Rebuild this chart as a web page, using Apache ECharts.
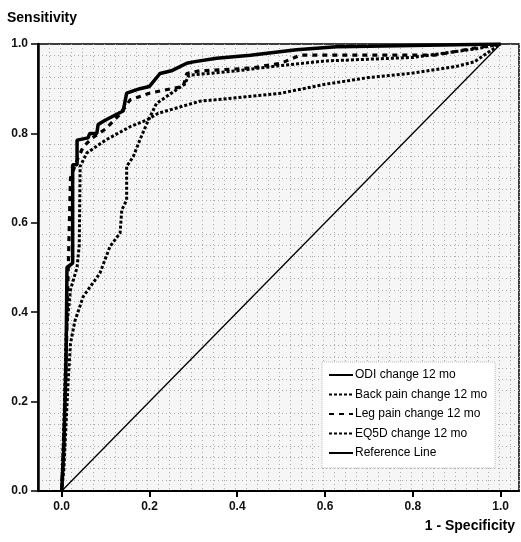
<!DOCTYPE html>
<html>
<head>
<meta charset="utf-8">
<script src="https://cdn.jsdelivr.net/npm/echarts@6/dist/echarts.min.js"></script>
<style>
html,body{margin:0;padding:0;background:#fff;}
#chart{width:521px;height:542px;}
</style>
</head>
<body>
<div id="chart"></div>
<script>
// ---- data (1 - specificity, sensitivity) ----
var tickValues = [0, 0.2, 0.4, 0.6, 0.8, 1.0];
var seriesNames = ["ODI change 12 mo", "Back pain change 12 mo", "Leg pain change 12 mo", "EQ5D change 12 mo", "Reference Line"];

var odi = [[0,0],[0.005,0.1],[0.01,0.3],[0.012,0.5],[0.025,0.51],[0.025,0.73],[0.035,0.73],[0.035,0.785],[0.06,0.79],[0.064,0.8],[0.08,0.8],[0.083,0.82],[0.1,0.83],[0.12,0.84],[0.14,0.85],[0.148,0.89],[0.178,0.9],[0.2,0.905],[0.224,0.934],[0.25,0.94],[0.285,0.957],[0.3,0.96],[0.353,0.968],[0.43,0.975],[0.535,0.987],[0.626,0.994],[0.7,0.995],[1,1]];

var backPain = [[0,0],[0.005,0.15],[0.01,0.35],[0.02,0.45],[0.035,0.5],[0.04,0.55],[0.042,0.726],[0.057,0.756],[0.1,0.785],[0.156,0.815],[0.194,0.83],[0.22,0.845],[0.315,0.872],[0.4,0.88],[0.5,0.89],[0.55,0.9],[0.6,0.91],[0.7,0.925],[0.8,0.935],[0.9,0.95],[0.94,0.96],[0.97,0.98],[1,1]];

var legPain = [[0,0],[0.008,0.2],[0.015,0.5],[0.02,0.7],[0.035,0.74],[0.049,0.77],[0.07,0.79],[0.1,0.81],[0.13,0.84],[0.156,0.875],[0.2,0.89],[0.25,0.9],[0.277,0.905],[0.285,0.934],[0.315,0.94],[0.43,0.946],[0.5,0.957],[0.543,0.975],[0.85,0.975],[0.96,0.994],[1,1]];

var eq5d = [[0,0],[0.005,0.05],[0.01,0.15],[0.015,0.25],[0.02,0.33],[0.03,0.38],[0.049,0.435],[0.087,0.487],[0.11,0.547],[0.133,0.577],[0.137,0.629],[0.148,0.651],[0.148,0.726],[0.163,0.748],[0.178,0.785],[0.194,0.822],[0.216,0.867],[0.25,0.89],[0.28,0.91],[0.29,0.93],[0.4,0.94],[0.5,0.952],[0.6,0.962],[0.8,0.97],[0.95,0.99],[1,1]];

var reference = [[0,0],[1,1]];

var chart = echarts.init(document.getElementById('chart'), null, {renderer: 'canvas'});
var fmt = function(v){ return Number(v).toFixed(1); };
var tickFont = {fontFamily: 'Liberation Sans, Arial, sans-serif', fontSize: 12, fontWeight: 'bold', color: '#111'};

function lineSeries(name, data, type, width) {
  return {
    name: name, type: 'line', data: data, xAxisIndex: 0, yAxisIndex: 0,
    showSymbol: false, symbol: 'none', animation: false,
    lineStyle: {color: '#000', width: width, type: type},
    itemStyle: {color: '#000'}
  };
}

chart.setOption({
  backgroundColor: '#fff',
  animation: false,
  grid: {left: 38, top: 44, right: 2, bottom: 51, show: true, borderColor: '#000', borderWidth: 1.5, backgroundColor: '#f6f6f6'},
  xAxis: [{
    type: 'value', min: -0.054, max: 1.042,
    axisLine: {show: true, onZero: false, lineStyle: {color: '#000', width: 2}},
    axisTick: {show: true, length: 6, inside: false, customValues: tickValues, lineStyle: {color: '#000', width: 2}},
    axisLabel: Object.assign({customValues: tickValues, formatter: fmt, margin: 10}, tickFont),
    splitLine: {show: false}
  }, {
    type: 'value', min: 0, max: 1.096, interval: 0.025, position: 'top',
    axisLine: {show: false, onZero: false}, axisTick: {show: false}, axisLabel: {show: false},
    splitLine: {show: true, lineStyle: {color: '#aaa', width: 1, type: [1, 3]}}
  }],
  yAxis: [{
    type: 'value', min: 0, max: 1, interval: 0.2,
    axisLine: {show: true, onZero: false, lineStyle: {color: '#000', width: 2.5}},
    axisTick: {show: true, length: 7, lineStyle: {color: '#000', width: 1.5}},
    axisLabel: Object.assign({formatter: fmt, margin: 10}, tickFont),
    splitLine: {show: false},
    minorTick: {show: false, splitNumber: 8},
    minorSplitLine: {show: true, lineStyle: {color: '#aaa', width: 1, type: [1, 3]}}
  }],
  legend: {
    orient: 'vertical', left: 322, top: 362,
    data: seriesNames,
    itemWidth: 24, itemHeight: 10, itemGap: 5.5,
    padding: [6, 8, 8, 6],
    borderColor: '#bbb', borderWidth: 1, borderType: 'dotted',
    backgroundColor: '#fff',
    itemStyle: {opacity: 0},
    textStyle: {fontFamily: 'Liberation Sans, Arial, sans-serif', fontSize: 12, color: '#000', lineHeight: 14, padding: [0, 0, 0, -3]}
  },
  graphic: [
    {type: 'text', left: 7, top: 11, style: {text: 'Sensitivity', font: 'bold 14px "Liberation Sans", Arial, sans-serif', fill: '#000'}},
    {type: 'text', right: 6, top: 519, style: {text: '1 - Specificity', font: 'bold 14px "Liberation Sans", Arial, sans-serif', fill: '#000'}}
  ],
  series: [
    lineSeries(seriesNames[0], odi, 'solid', 3.5),
    lineSeries(seriesNames[1], backPain, [3, 2], 3),
    lineSeries(seriesNames[2], legPain, [5, 5], 3.2),
    lineSeries(seriesNames[3], eq5d, [3, 2], 3),
    lineSeries(seriesNames[4], reference, 'solid', 1.3)
  ]
});
</script>
</body>
</html>
